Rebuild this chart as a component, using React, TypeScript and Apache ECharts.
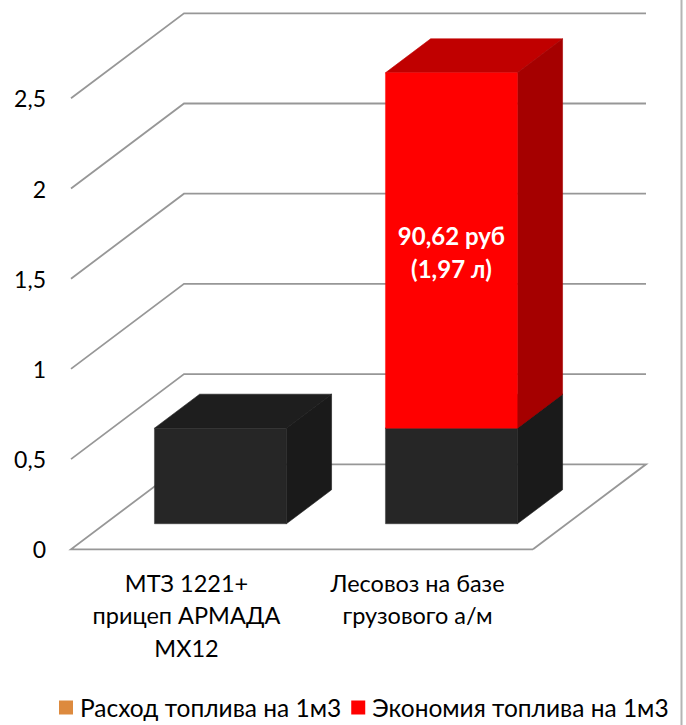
import React, { useEffect, useRef } from "react";
import * as echarts from "echarts";

const categories = ["МТЗ 1221+\nприцеп АРМАДА\nМХ12", "Лесовоз на базе\nгрузового а/м"];
const fuelUse = [0.53, 0.53];
const fuelSaving = [0, 1.97];
const savingLabels = ["", "90,62 руб\n(1,97 л)"];
const gridTicks = [0, 0.5, 1, 1.5, 2, 2.5];
const seriesNames = ["Расход топлива на 1м3", "Экономия топлива на 1м3"];

const FONT = "Lato, 'Open Sans', sans-serif";
const DEPTH_X = 113;
const DEPTH_Y = -85;
const GRID_COLOR = "#979797";

export default function App() {
  const ref = useRef<HTMLDivElement>(null);
  useEffect(() => {
    const chart = echarts.init(ref.current!, undefined, { renderer: "svg" });

    const wallRender = (_p: any, api: any) => {
      const v = api.value(0);
      const rect = _p.coordSys;
      const y = api.coord([0, v])[1];
      const left = rect.x;
      const right = rect.x + rect.width;
      const points =
        v === 0
          ? [
              [right, y],
              [left, y],
              [left + DEPTH_X, y + DEPTH_Y],
              [right + DEPTH_X, y + DEPTH_Y],
              [right, y],
            ]
          : [
              [left, y],
              [left + DEPTH_X, y + DEPTH_Y],
              [right + DEPTH_X, y + DEPTH_Y],
            ];
      return {
        type: "polyline",
        shape: { points },
        style: { fill: "none", stroke: GRID_COLOR, lineWidth: 1.8 },
        silent: true,
      };
    };

    const barRender =
      (front: string, top: string, side: string) => (p: any, api: any) => {
        const cat = api.value(0);
        const start = api.value(1);
        const end = api.value(2);
        if (end <= start) return null;
        const text = savingLabels[cat];
        const band = api.size([1, 0])[0];
        const w = band * 0.571;
        const c0 = api.coord([cat, start]);
        const c1 = api.coord([cat, end]);
        const ox = DEPTH_X * 0.3;
        const oy = DEPTH_Y * 0.3;
        const dx = DEPTH_X * 0.4;
        const dy = DEPTH_Y * 0.4;
        const x0 = c0[0] + ox - w / 2;
        const x1 = x0 + w;
        const yb = c0[1] + oy;
        const yt = c1[1] + oy;
        const children: any[] = [
          {
            type: "polygon",
            shape: { points: [[x0, yt], [x1, yt], [x1 + dx, yt + dy], [x0 + dx, yt + dy]] },
            style: { fill: top, stroke: top, lineWidth: 0.6 },
          },
          {
            type: "polygon",
            shape: { points: [[x1, yb], [x1 + dx, yb + dy], [x1 + dx, yt + dy], [x1, yt]] },
            style: { fill: side, stroke: side, lineWidth: 0.6 },
          },
          {
            type: "rect",
            shape: { x: x0, y: yt, width: w, height: yb - yt },
            style: { fill: front, stroke: front, lineWidth: 0.4 },
          },
        ];
        if (p.seriesIndex === 2 && text) {
          children.push({
            type: "text",
            x: (x0 + x1) / 2,
            y: (yt + yb) / 2 + 2,
            style: {
              text,
              fill: "#ffffff",
              font: `bold 24px ${FONT}`,
              align: "center",
              verticalAlign: "middle",
              lineHeight: 33,
            },
          });
        }
        return { type: "group", children };
      };

    chart.setOption({
      animation: false,
      backgroundColor: "#ffffff",
      grid: { left: 71, top: 98.3, width: 462, height: 451 },
      xAxis: {
        type: "category",
        data: categories,
        axisLine: { show: false },
        axisTick: { show: false },
        axisLabel: {
          color: "#000000",
          fontFamily: FONT,
          fontSize: 23.5,
          lineHeight: 32.5,
          margin: 17,
          interval: 0,
        },
      },
      yAxis: {
        type: "value",
        min: 0,
        max: 2.5,
        interval: 0.5,
        axisLine: { show: false },
        axisTick: { show: false },
        splitLine: { show: false },
        axisLabel: {
          color: "#000000",
          fontFamily: FONT,
          fontSize: 23,
          margin: 25,
          formatter: (v: number) => String(v).replace(".", ","),
        },
      },
      legend: {
        data: seriesNames,
        left: 54,
        top: 690,
        icon: "rect",
        itemWidth: 14,
        itemHeight: 14,
        itemGap: 10,
        selectedMode: false,
        textStyle: { color: "#000000", fontFamily: FONT, fontSize: 24.5, padding: [0, 0, 0, 2] },
      },
      graphic: [
        {
          type: "line",
          shape: { x1: 681.5, y1: 0, x2: 681.5, y2: 725 },
          style: { stroke: "#b4b4b4", lineWidth: 2 },
          silent: true,
        },
      ],
      series: [
        {
          name: "walls",
          type: "custom",
          coordinateSystem: "cartesian2d",
          renderItem: wallRender,
          data: gridTicks.map((t) => [t]),
          encode: { y: 0 },
          silent: true,
          z: 1,
          clip: false,
        },
        {
          name: seriesNames[0],
          type: "custom",
          coordinateSystem: "cartesian2d",
          itemStyle: { color: "#dd8a3e" },
          renderItem: barRender("#262626", "#1e1e1e", "#1a1a1a"),
          data: fuelUse.map((v, i) => [i, 0, v]),
          encode: { x: 0, y: [1, 2] },
          z: 2,
          clip: false,
        },
        {
          name: seriesNames[1],
          type: "custom",
          coordinateSystem: "cartesian2d",
          itemStyle: { color: "#ff0000" },
          renderItem: barRender("#ff0000", "#c00000", "#a50000"),
          data: fuelSaving.map((v, i) => [i, fuelUse[i], fuelUse[i] + v]),
          encode: { x: 0, y: [1, 2] },
          z: 3,
          clip: false,
        },
      ],
    });
    return () => chart.dispose();
  }, []);
  return <div ref={ref} style={{ width: 686, height: 725, position: "fixed", left: 0, top: 0 }} />;
}
